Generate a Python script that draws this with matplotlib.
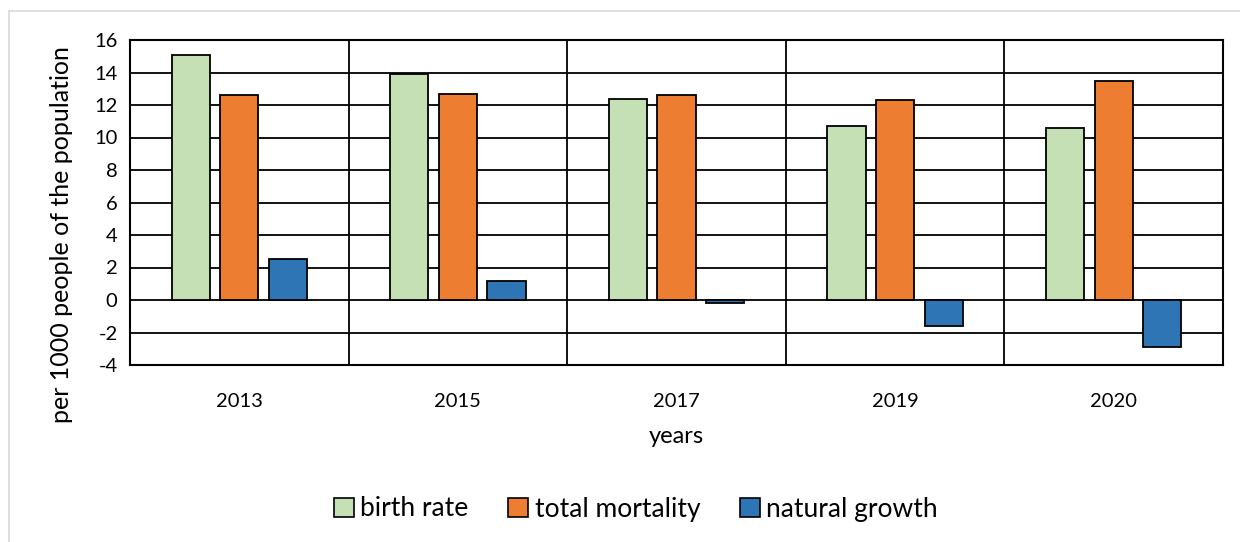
import matplotlib.pyplot as plt
import numpy as np
from matplotlib.patches import Patch
from matplotlib.lines import Line2D

years = ['2013', '2015', '2017', '2019', '2020']
birth_rate = [15.1, 13.9, 12.4, 10.7, 10.6]
total_mortality = [12.6, 12.7, 12.6, 12.3, 13.5]
natural_growth = [2.5, 1.2, -0.2, -1.6, -2.9]
series_names = ['birth rate', 'total mortality', 'natural growth']
colors = ['#C5E0B4', '#ED7D31', '#2E75B6']

plt.rcParams['font.family'] = ['Lato', 'DejaVu Sans']
plt.rcParams['axes.unicode_minus'] = False

fig = plt.figure(figsize=(12.4, 5.42), dpi=100)
ax = fig.add_axes([130/1240, 1-365/542, (1223-130)/1240, (365-40)/542])

x = np.arange(len(years))
w = 0.175
off = 0.222
for i, vals in enumerate([birth_rate, total_mortality, natural_growth]):
    ax.bar(x + (i-1)*off, vals, width=w, color=colors[i], edgecolor='black',
           linewidth=1.3, zorder=3, label=series_names[i])

ax.set_xlim(-0.5, len(years)-0.5)
ax.set_ylim(-4, 16)
ax.set_yticks(range(-4, 17, 2))
ax.set_xticks(x)
ax.set_xticklabels(years)
ax.tick_params(axis='both', length=0, labelsize=14.5)
ax.tick_params(axis='x', pad=20)
ax.tick_params(axis='y', pad=9)
ax.grid(axis='y', color='black', linewidth=1.3, zorder=0)
for b in np.arange(0.5, len(years)-0.5, 1):
    ax.axvline(b, color='black', linewidth=1.3, zorder=0)
for s in ax.spines.values():
    s.set_linewidth(1.5)
    s.set_color('black')

ax.set_ylabel('per 1000 people of the population', fontsize=18)
ax.yaxis.set_label_coords(-0.052, 0.40)
ax.set_xlabel('years', fontsize=17, labelpad=12)

handles = [Patch(facecolor=c, edgecolor='black', linewidth=1.2) for c in colors]
fig.legend(handles, series_names, loc='center', bbox_to_anchor=(636/1240, 1-509/542),
           ncol=3, frameon=False, fontsize=19, handlelength=0.75, handleheight=0.75,
           handletextpad=0.25, columnspacing=1.5)

# light chart-area frame
fig.add_artist(Line2D([9/1240, 9/1240], [0, 1-11/542], transform=fig.transFigure,
                      color='#d9d9d9', linewidth=1.2))
fig.add_artist(Line2D([9/1240, 1], [1-11/542, 1-11/542], transform=fig.transFigure,
                      color='#d9d9d9', linewidth=1.2))

fig.savefig('out.png', dpi=100)
